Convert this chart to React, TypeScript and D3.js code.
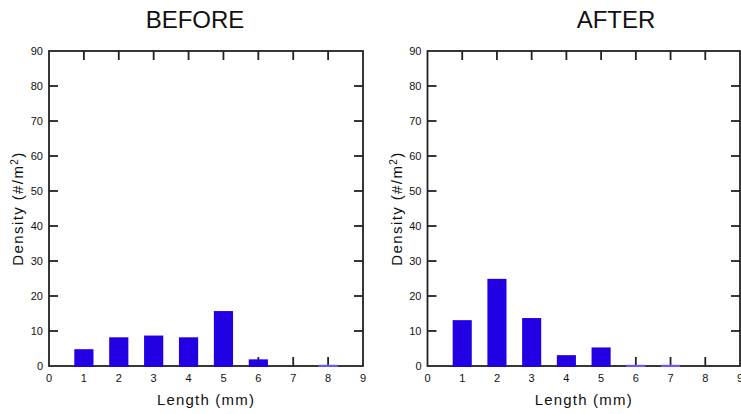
import React from "react";
import * as d3 from "d3";

const lengths = [1, 2, 3, 4, 5, 6, 7, 8];
const beforeDensity = [4.8, 8.2, 8.7, 8.2, 15.7, 1.9, 0, 0.25];
const afterDensity = [13.1, 24.9, 13.7, 3.1, 5.3, 0.25, 0.25, 0];
const xTicks = [0, 1, 2, 3, 4, 5, 6, 7, 8, 9];
const yTicks = [0, 10, 20, 30, 40, 50, 60, 70, 80, 90];
const titles = ["BEFORE", "AFTER"];

const W = 741;
const H = 414;
const BAR = "#2200e4";
const INK = "#222";
const FONT = "'Liberation Sans', Arial, sans-serif";

type PanelProps = {
  values: number[];
  x0: number;
  x1: number;
  title: string;
  titleX: number;
  labelX: number;
};

function Panel({ values, x0, x1, title, titleX, labelX }: PanelProps) {
  const top = 51;
  const bottom = 366;
  const x = d3.scaleLinear().domain([0, 9]).range([x0, x1]);
  const y = d3.scaleLinear().domain([0, 90]).range([bottom, top]);
  const bw = x(0.55) - x(0);
  const tl = 9;
  return (
    <g>
      <text x={titleX} y={28} textAnchor="middle" fontSize={24} fontFamily={FONT} fill="#111">
        {title}
      </text>
      <rect x={x0} y={top} width={x1 - x0} height={bottom - top} fill="none" stroke={INK} strokeWidth={1.8} />
      {xTicks.slice(1, -1).map((t) => (
        <g key={"xt" + t}>
          <line x1={x(t)} x2={x(t)} y1={top} y2={top + tl} stroke={INK} strokeWidth={1.8} />
          <line x1={x(t)} x2={x(t)} y1={bottom} y2={bottom - tl} stroke={INK} strokeWidth={1.8} />
        </g>
      ))}
      {yTicks.slice(1, -1).map((t) => (
        <g key={"yt" + t}>
          <line x1={x0} x2={x0 + tl} y1={y(t)} y2={y(t)} stroke={INK} strokeWidth={1.8} />
          <line x1={x1} x2={x1 - tl} y1={y(t)} y2={y(t)} stroke={INK} strokeWidth={1.8} />
        </g>
      ))}
      {lengths.map((l, i) => {
        const v = values[i];
        if (v <= 0) return null;
        const yy = y(v);
        const h = bottom - yy;
        if (h < 2) {
          return (
            <rect key={l} x={x(l) - bw / 2} y={bottom - 1.2} width={bw} height={2.2} fill="#6a58ff" />
          );
        }
        return <rect key={l} x={x(l) - bw / 2} y={yy} width={bw} height={h + 0.9} fill={BAR} />;
      })}
      {xTicks.map((t) => (
        <text key={"xl" + t} x={x(t)} y={382} textAnchor="middle" fontSize={11} fontFamily={FONT} fill="#111">
          {t}
        </text>
      ))}
      {yTicks.map((t) => (
        <text key={"yl" + t} x={x0 - 6} y={y(t) + 4} textAnchor="end" fontSize={11} fontFamily={FONT} fill="#111">
          {t}
        </text>
      ))}
      <text
        x={(x0 + x1) / 2}
        y={405}
        textAnchor="middle"
        fontSize={15}
        letterSpacing={1.2}
        fontFamily={FONT}
        fill="#111"
      >
        Length (mm)
      </text>
      <text
        transform={`translate(${labelX},${(top + bottom) / 2}) rotate(-90)`}
        textAnchor="middle"
        fontSize={15}
        letterSpacing={1.4}
        fontFamily={FONT}
        fill="#111"
      >
        Density (#/m
        <tspan dy={-5} fontSize={10}>
          2
        </tspan>
        <tspan dy={5}>)</tspan>
      </text>
    </g>
  );
}

export default function App() {
  return (
    <div style={{ position: "fixed", left: 0, top: 0, width: W, height: H, background: "#fff" }}>
      <svg width={W} height={H} viewBox={`0 0 ${W} ${H}`} style={{ display: "block" }}>
        <rect width={W} height={H} fill="#fff" />
        <Panel values={beforeDensity} x0={49} x1={363} title={titles[0]} titleX={195} labelX={23} />
        <Panel values={afterDensity} x0={427.5} x1={740} title={titles[1]} titleX={616} labelX={402} />
      </svg>
    </div>
  );
}
